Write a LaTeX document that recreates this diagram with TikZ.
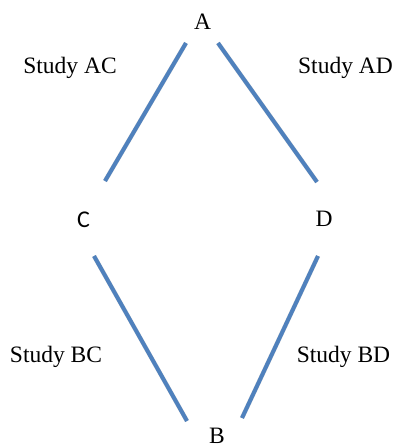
\documentclass[tikz,border=0pt]{standalone}
\usepackage{fontspec}
\setmainfont{Liberation Serif}
\newfontfamily\calibrilike{Carlito}
\begin{document}
\begin{tikzpicture}[x=1pt,y=-1pt,
  vertex/.style={inner sep=0pt,anchor=base,font=\fontsize{23.5}{26}\selectfont},
  svertex/.style={inner sep=0pt,anchor=base,font=\calibrilike\fontsize{24}{26}\selectfont},
  studylabel/.style={inner sep=0pt,anchor=base,font=\fontsize{23.5}{26}\selectfont},
  edgeshadow/.style={line width=4.5pt,draw=black!40,opacity=0.4,shift={(1.8,1.8)}},
  edgeline/.style={line width=4pt,draw={rgb,255:red,79;green,129;blue,189}}]
  \useasboundingbox (0,0) rectangle (394,448);

  % vertex letters
  \node[vertex]  (A) at (202.5,29) {A};
  \node[svertex] (C) at (83.5,227) {C};
  \node[vertex]  (D) at (324,226) {D};
  \node[vertex]  (B) at (217,443.5) {B};

  % study labels
  \node[studylabel] (sAC) at (70,73) {Study AC};
  \node[studylabel] (sAD) at (345.5,73) {Study AD};
  \node[studylabel] (sBC) at (56,362) {Study BC};
  \node[studylabel] (sBD) at (343.5,362) {Study BD};

  % end points of the edges
  \coordinate (ac1) at (186,43);  \coordinate (ac2) at (105,181);
  \coordinate (ad1) at (218,43);  \coordinate (ad2) at (317,182);
  \coordinate (cb1) at (94,256);  \coordinate (cb2) at (187,421);
  \coordinate (db1) at (318,256); \coordinate (db2) at (242,418);

  % soft shadows under the edges
  \foreach \p/\q in {ac1/ac2,ad1/ad2,cb1/cb2,db1/db2}{
    \draw[edgeshadow] (\p) -- (\q);
  }
  % the edges
  \foreach \p/\q in {ac1/ac2,ad1/ad2,cb1/cb2,db1/db2}{
    \draw[edgeline] (\p) -- (\q);
  }
\end{tikzpicture}
\end{document}
